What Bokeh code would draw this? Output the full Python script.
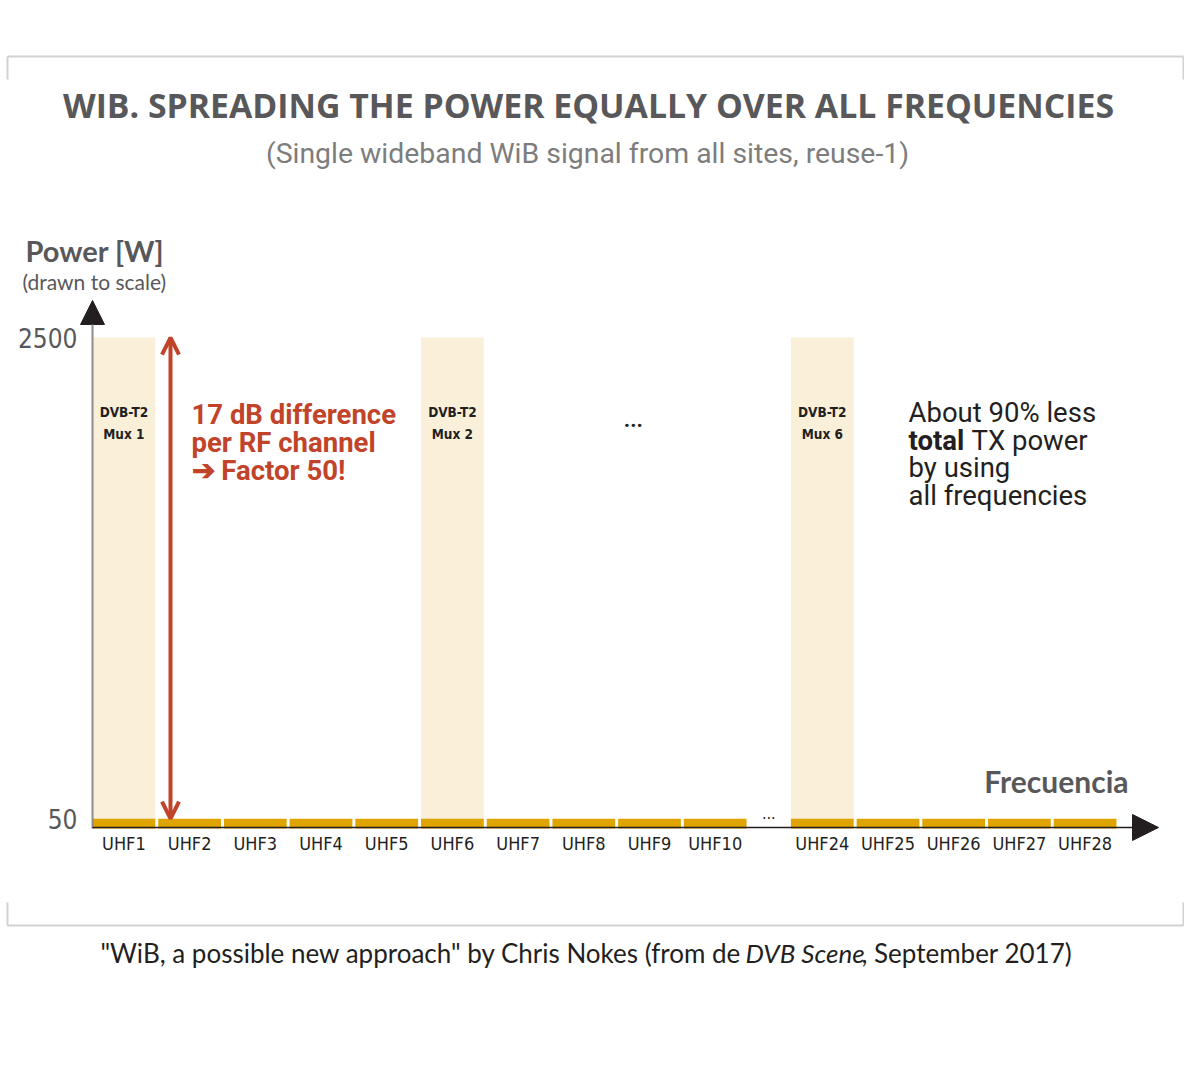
from bokeh.plotting import figure
from bokeh.models import Range1d, Arrow, NormalHead, OpenHead
from bokeh.core.properties import value
from bokeh.embed import file_html
from bokeh.resources import INLINE

# ---------------- data ----------------
channels = ["UHF1", "UHF2", "UHF3", "UHF4", "UHF5", "UHF6", "UHF7", "UHF8",
            "UHF9", "UHF10", "UHF24", "UHF25", "UHF26", "UHF27", "UHF28"]
wib_power = [50, 50, 50, 50, 50, 50, 50, 50, 50, 50, 50, 50, 50, 50, 50]
mux_channels = ["UHF1", "UHF6", "UHF24"]
mux_names = ["Mux 1", "Mux 2", "Mux 6"]
dvbt2_power = [2500, 2500, 2500]
y_ticks = [2500, 50]
y_tick_labels = ["2500", "50"]

title = "WIB. SPREADING THE POWER EQUALLY OVER ALL FREQUENCIES"
subtitle = "(Single wideband WiB signal from all sites, reuse-1)"
red_lines = ["17 dB difference", "per RF channel", "\u2794 Factor 50!"]
note_lines = ["About 90% less", "total", "TX power", "by using", "all frequencies"]

# ---------------- layout helpers (page pixels -> data) ----------------
W, H = 1184, 1064
ORIGIN = 0            # page pixel of the canvas' top-left corner
SLOT_PX = 65.7        # pixels per channel slot
SLOT0_PX = 123.4      # page x of first channel centre
BASE_PX = 828.0       # page y of 0 W
PX_PER_W = 0.19638    # pixels per watt
GAP = 0.63            # extra slot gap for the "..." between UHF10 and UHF24


def u(px):
    return (px - SLOT0_PX) / SLOT_PX


def w(py):
    return (BASE_PX - py) / PX_PER_W


positions = [i if i < 10 else i + GAP for i in range(len(channels))]
pos_of = dict(zip(channels, positions))
mux_x = [pos_of[c] for c in mux_channels]

p = figure(width=W, height=H, output_backend="svg", toolbar_location=None,
           x_range=Range1d(u(ORIGIN), u(ORIGIN + W)),
           y_range=Range1d(w(ORIGIN + H), w(ORIGIN)),
           min_border=0)
p.axis.visible = False
p.grid.visible = False
p.outline_line_color = None
p.background_fill_color = "white"

NARROW = "DejaVu Sans Condensed"
BARW = 0.955

# frame brackets
fx0, fx1 = u(7), u(1183)
p.segment(x0=[fx0, fx0, fx1, fx0, fx0, fx1],
          y0=[w(56), w(56), w(56), w(925), w(902), w(902)],
          x1=[fx1, fx0, fx1, fx1, fx0, fx1],
          y1=[w(56), w(79), w(79), w(925), w(925), w(925)],
          line_color="#d2d2d2", line_width=2)

# DVB-T2 mux bars (light) and WiB bars
p.vbar(x=mux_x, top=dvbt2_power, bottom=0, width=BARW,
       fill_color="#faefd9", line_color=None)
p.vbar(x=positions, top=wib_power, bottom=0, width=BARW,
       fill_color="#e0a400", line_color=None)

# axes with arrow heads
ax_x = positions[0] - BARW / 2
p.add_layout(Arrow(x_start=ax_x, y_start=0, x_end=ax_x, y_end=w(300),
                   line_color="#8c8c8c", line_width=2,
                   end=NormalHead(size=24, fill_color="#231f20", line_color="#231f20")))
p.add_layout(Arrow(x_start=ax_x, y_start=w(827), x_end=u(1158), y_end=w(827),
                   line_color="#231f20", line_width=1.5,
                   end=NormalHead(size=26, fill_color="#231f20", line_color="#231f20")))

# red difference arrow
RED = "#c1442a"
p.add_layout(Arrow(x_start=u(170), y_start=wib_power[1], x_end=u(170), y_end=dvbt2_power[0],
                   line_color=RED, line_width=4,
                   start=OpenHead(size=17, line_color=RED, line_width=4),
                   end=OpenHead(size=17, line_color=RED, line_width=4)))

# tick labels
p.text(x=[u(77)] * len(y_ticks), y=y_ticks, text=y_tick_labels,
       text_align="right", text_baseline="middle", text_font=value(NARROW),
       text_font_size="26px", text_color="#58585a")
p.text(x=positions, y=[w(843)] * len(channels), text=channels,
       text_align="center", text_baseline="middle", text_font=value(NARROW),
       text_font_size="18px", text_color="#231f20")
p.text(x=[(positions[9] + positions[10]) / 2], y=[w(812)], text=["..."],
       text_align="center", text_baseline="middle", text_font=value(NARROW),
       text_font_size="16px", text_color="#231f20")

# mux labels
p.text(x=mux_x, y=[w(411)] * 3, text=["DVB-T2"] * 3, text_align="center",
       text_baseline="middle", text_font=value(NARROW), text_font_style="bold",
       text_font_size="13.5px", text_color="#231f20")
p.text(x=mux_x, y=[w(433)] * 3, text=mux_names, text_align="center",
       text_baseline="middle", text_font=value(NARROW), text_font_style="bold",
       text_font_size="13.5px", text_color="#231f20")
p.text(x=[(mux_x[1] + mux_x[2]) / 2 - 0.06], y=[w(418)], text=["..."], text_align="center",
       text_baseline="middle", text_font=value("Roboto"), text_font_style="bold",
       text_font_size="22px", text_color="#231f20")

# titles
p.text(x=[u(588)], y=[w(104)], text=[title], text_align="center", text_baseline="middle",
       text_font=value("Open Sans"), text_font_style="bold", text_font_size="33.8px",
       text_color="#58585a")
p.text(x=[u(587)], y=[w(153)], text=[subtitle], text_align="center", text_baseline="middle",
       text_font=value("Roboto"), text_font_size="28.4px", text_color="#7d7d7d")

# y axis label
p.text(x=[u(25)], y=[w(250)], text=["Power [W]"], text_align="left", text_baseline="middle",
       text_font=value("Lato"), text_font_style="bold", text_font_size="29px",
       text_color="#58585a")
p.text(x=[u(22)], y=[w(281)], text=["(drawn to scale)"], text_align="left",
       text_baseline="middle", text_font=value("Lato"), text_font_size="21px",
       text_color="#58585a")
p.text(x=[u(1128)], y=[w(780)], text=["Frecuencia"], text_align="right",
       text_baseline="middle", text_font=value("Lato"), text_font_style="bold",
       text_font_size="30px", text_color="#58585a")

# red annotation
p.text(x=[u(191)] * 3, y=[w(414), w(442), w(470)], text=red_lines, text_align="left",
       text_baseline="middle", text_font=value("Roboto"), text_font_style="bold",
       text_font_size="27.5px", text_color=RED)

# right note
p.text(x=[u(908), u(971), u(908), u(908)], y=[w(412), w(440), w(467), w(495)],
       text=[note_lines[0], note_lines[2], note_lines[3], note_lines[4]],
       text_align="left", text_baseline="middle", text_font=value("Roboto"),
       text_font_size="27.5px", text_color="#231f20")
p.text(x=[u(908)], y=[w(440)], text=[note_lines[1]], text_align="left",
       text_baseline="middle", text_font=value("Roboto"), text_font_style="bold",
       text_font_size="27.5px", text_color="#231f20")

# footer
p.text(x=[u(741)], y=[w(952)], text=['"WiB, a possible new approach" by Chris Nokes (from de'],
       text_align="right", text_baseline="middle", text_font=value("Lato"),
       text_font_size="26px", text_color="#231f20")
p.text(x=[u(745)], y=[w(952)], text=["DVB Scene"], text_align="left", text_baseline="middle",
       text_font=value("Lato"), text_font_style="italic", text_font_size="26px",
       text_color="#231f20")
p.text(x=[u(861)], y=[w(952)], text=[", September 2017)"], text_align="left",
       text_baseline="middle", text_font=value("Lato"), text_font_size="26px",
       text_color="#231f20")

open("out.html", "w").write(file_html(p, INLINE))
